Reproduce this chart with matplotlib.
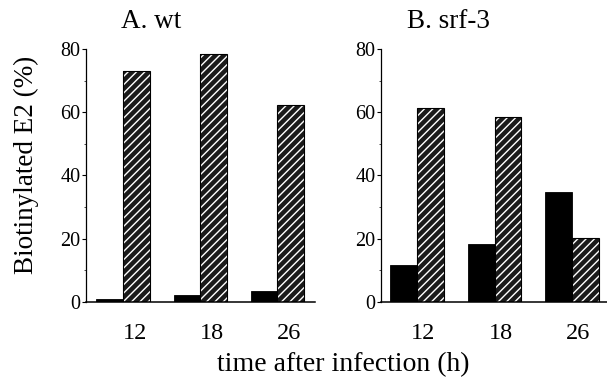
import numpy as np
import matplotlib.pyplot as plt
from matplotlib.ticker import MultipleLocator

plt.rcParams['font.family'] = ['Liberation Serif', 'DejaVu Serif']

# Datos
horas = ['12', '18', '26']
wt_negro = [0.9, 2.2, 3.5]
wt_rayado = [73.1, 78.4, 62.3]
srf_negro = [11.7, 18.3, 34.8]
srf_rayado = [61.4, 58.6, 20.3]

fig = plt.figure(figsize=(6.07, 3.78), dpi=100)
ax_a = fig.add_axes([0.1417, 0.2011, 0.3773, 0.6693])
ax_b = fig.add_axes([0.6277, 0.2011, 0.3723, 0.6693])

x = np.arange(len(horas))
ancho = 0.345


def dibujar(ax, negro, rayado, xlim, titulo, tx, desplaz):
    ax.bar(x - ancho / 2, negro, ancho, color='black', edgecolor='black', linewidth=0.6)
    # barras rayadas: fondo oscuro con lineas blancas, luego el contorno negro
    ax.bar(x + ancho / 2, rayado, ancho, color='#1a1a1a', edgecolor='white',
           hatch='////', linewidth=0)
    ax.bar(x + ancho / 2, rayado, ancho, fill=False, edgecolor='black', linewidth=0.8)
    ax.set_xlim(*xlim)
    ax.set_ylim(0, 80)
    ax.yaxis.set_major_locator(MultipleLocator(20))
    ax.yaxis.set_minor_locator(MultipleLocator(10))
    ax.set_xticks(x + desplaz)
    ax.set_xticklabels(horas, fontsize=17.5)
    ax.tick_params(axis='x', length=0, pad=15)
    ax.tick_params(axis='y', which='major', length=3, width=0.8, pad=1, labelsize=14.5)
    ax.tick_params(axis='y', which='minor', length=1.5, width=0.5)
    for s in ['top', 'right']:
        ax.spines[s].set_visible(False)
    ax.spines['left'].set_linewidth(0.9)
    ax.spines['bottom'].set_linewidth(1.1)
    ax.text(tx, 1.11, titulo, transform=ax.transAxes, fontsize=19.5,
            ha='center', va='center')


dibujar(ax_a, wt_negro, wt_rayado, (-0.48, 2.49), 'A. wt', 0.284, 0.15)
dibujar(ax_b, srf_negro, srf_rayado, (-0.465, 2.45), 'B. srf-3', 0.30, 0.08)

fig.text(0.043, 0.563, 'Biotinylated E2 (%)', fontsize=19.5, rotation=90,
         ha='center', va='center')
fig.text(0.565, 0.035, 'time after infection (h)', fontsize=20, ha='center', va='center')

fig.savefig('out.png', dpi=100)
